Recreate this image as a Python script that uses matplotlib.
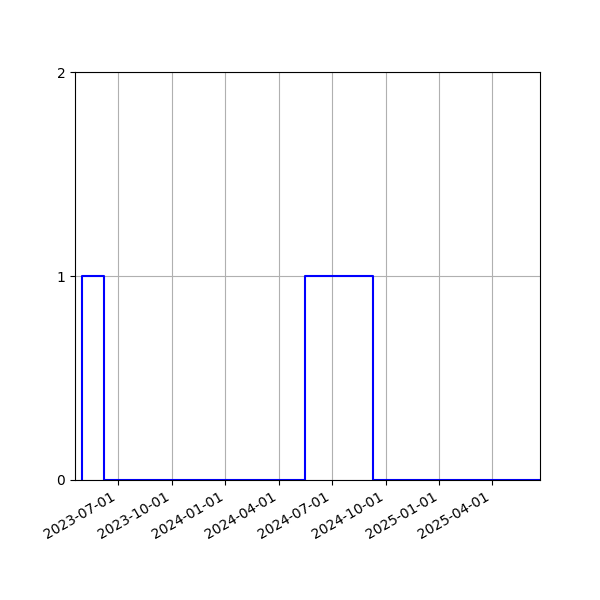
import matplotlib
matplotlib.use("Agg")
import matplotlib.pyplot as plt
import matplotlib.dates as mdates
import numpy as np

dates = ["2023-05-01", "2023-05-01", "2023-06-08", "2024-05-17", "2024-09-09", "2025-06-22"]
values = [0, 1, 0, 1, 0, 0]
x_start = "2023-04-19"
x_end = "2025-06-22"

x = np.array(dates, dtype="datetime64[D]")

fig = plt.figure(figsize=(6, 6), dpi=100)
ax = fig.add_subplot(111)
ax.plot(x, values, color="blue", drawstyle="steps-post", linewidth=1.5)
ax.set_xlim(np.datetime64(x_start), np.datetime64(x_end))
ax.set_ylim(0, 2)
ax.set_yticks([0, 1, 2])
ax.xaxis.set_major_locator(mdates.MonthLocator(bymonth=[1, 4, 7, 10]))
ax.xaxis.set_major_formatter(mdates.DateFormatter("%Y-%m-%d"))
ax.grid(True)
fig.autofmt_xdate()
fig.savefig("out.png", dpi=100)
